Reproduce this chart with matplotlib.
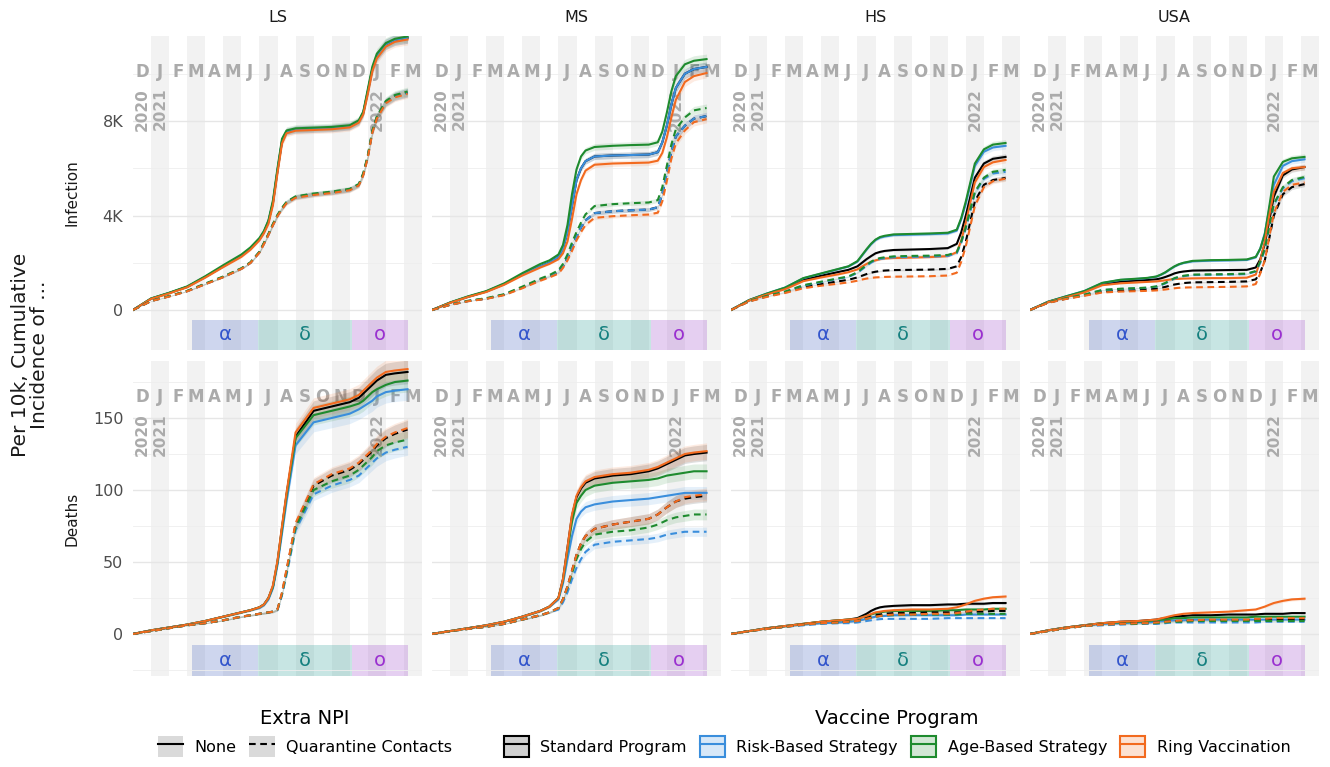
import matplotlib.pyplot as plt
from matplotlib.lines import Line2D
from matplotlib.patches import Patch
from matplotlib.legend_handler import HandlerTuple
import matplotlib.transforms as mtransforms

# time axis: months since 1 Dec 2020
t = [0, 1, 2, 3, 4, 5, 6, 6.5, 7, 7.25, 7.5, 7.75, 8, 8.25, 8.5, 9, 10, 11, 12,
     12.5, 12.75, 13, 13.25, 13.5, 14, 14.5, 15.2]

regions = ['LS', 'MS', 'HS', 'USA']
programs = ['Standard Program', 'Risk-Based Strategy', 'Age-Based Strategy', 'Ring Vaccination']
prog_colors = ['#000000', '#3A8EDC', '#1E8B2E', '#F26A1F']
npi_labels = ['None', 'Quarantine Contacts']

# cumulative infections per 10k (rows: standard, risk, age, ring)
inf_ls_none = [
    [0, 480, 720, 980, 1400, 1850, 2300, 2600, 3000, 3300, 3750, 4550, 5900, 7150, 7550, 7640, 7670, 7700, 7780, 7980, 8350, 9250, 10200, 10750, 11250, 11430, 11520],
    [0, 480, 720, 980, 1400, 1850, 2300, 2600, 3000, 3300, 3750, 4550, 5900, 7150, 7550, 7640, 7670, 7700, 7780, 7980, 8350, 9250, 10200, 10750, 11250, 11430, 11520],
    [0, 490, 730, 1000, 1430, 1900, 2350, 2650, 3050, 3350, 3800, 4650, 6000, 7250, 7600, 7690, 7720, 7750, 7820, 8030, 8400, 9350, 10300, 10850, 11300, 11480, 11580],
    [0, 470, 700, 960, 1370, 1820, 2250, 2550, 2950, 3250, 3650, 4450, 5800, 7050, 7480, 7590, 7620, 7650, 7730, 7930, 8280, 9150, 10100, 10650, 11150, 11350, 11450],
]
inf_ls_quar = [
    [0, 380, 580, 800, 1100, 1400, 1750, 2000, 2450, 2820, 3200, 3620, 4000, 4300, 4550, 4780, 4900, 4980, 5100, 5300, 5750, 6500, 7550, 8150, 8800, 9050, 9200],
    [0, 380, 580, 800, 1100, 1400, 1750, 2000, 2450, 2820, 3200, 3620, 4000, 4300, 4550, 4780, 4900, 4980, 5100, 5300, 5750, 6500, 7550, 8150, 8800, 9050, 9200],
    [0, 385, 590, 810, 1120, 1420, 1770, 2020, 2470, 2850, 3230, 3650, 4030, 4330, 4580, 4810, 4930, 5010, 5130, 5330, 5800, 6550, 7600, 8200, 8850, 9100, 9250],
    [0, 375, 570, 790, 1090, 1390, 1740, 1990, 2430, 2790, 3180, 3590, 3970, 4270, 4520, 4750, 4870, 4950, 5070, 5270, 5700, 6450, 7500, 8100, 8750, 9000, 9150],
]
inf_ms_none = [
    [0, 310, 560, 780, 1100, 1500, 1850, 2000, 2250, 2600, 3300, 4400, 5500, 6000, 6300, 6500, 6540, 6560, 6580, 6680, 7100, 7800, 8700, 9400, 10000, 10200, 10290],
    [0, 310, 560, 780, 1100, 1500, 1850, 2000, 2250, 2600, 3300, 4400, 5500, 6000, 6300, 6500, 6540, 6560, 6580, 6680, 7100, 7800, 8700, 9400, 10000, 10200, 10290],
    [0, 320, 580, 800, 1130, 1560, 1950, 2100, 2350, 2750, 3600, 4900, 5950, 6500, 6750, 6900, 6950, 6980, 7000, 7100, 7550, 8350, 9250, 9900, 10400, 10550, 10620],
    [0, 300, 550, 760, 1070, 1460, 1800, 1950, 2150, 2400, 2900, 3850, 4900, 5500, 5900, 6150, 6200, 6220, 6240, 6320, 6650, 7300, 8150, 8900, 9650, 9900, 10030],
]
inf_ms_quar = [
    [0, 220, 380, 480, 650, 950, 1280, 1430, 1600, 1850, 2200, 2650, 3100, 3500, 3800, 4100, 4180, 4220, 4250, 4350, 4900, 5800, 6700, 7350, 7800, 8100, 8210],
    [0, 220, 380, 480, 650, 950, 1280, 1430, 1600, 1850, 2200, 2650, 3100, 3500, 3800, 4100, 4180, 4220, 4250, 4350, 4900, 5800, 6700, 7350, 7800, 8100, 8210],
    [0, 225, 390, 500, 670, 990, 1330, 1480, 1680, 1950, 2350, 2850, 3300, 3700, 4050, 4400, 4480, 4520, 4550, 4650, 5200, 6100, 7000, 7650, 8150, 8450, 8550],
    [0, 215, 370, 470, 630, 920, 1240, 1380, 1540, 1780, 2100, 2500, 2950, 3300, 3600, 3900, 3970, 4010, 4040, 4120, 4600, 5450, 6400, 7050, 7600, 7950, 8080],
]
inf_hs_none = [
    [0, 410, 680, 920, 1280, 1450, 1620, 1700, 1850, 2000, 2150, 2280, 2400, 2460, 2500, 2540, 2560, 2580, 2620, 2800, 3300, 4000, 4800, 5600, 6200, 6400, 6480],
    [0, 420, 700, 950, 1340, 1540, 1740, 1840, 2050, 2300, 2550, 2780, 2960, 3060, 3110, 3170, 3190, 3210, 3240, 3360, 3850, 4500, 5300, 6100, 6700, 6880, 6950],
    [0, 420, 700, 950, 1350, 1550, 1750, 1850, 2070, 2320, 2570, 2800, 2980, 3090, 3140, 3200, 3220, 3240, 3270, 3400, 3900, 4600, 5400, 6200, 6800, 7000, 7070],
    [0, 400, 660, 880, 1220, 1380, 1520, 1600, 1720, 1840, 1950, 2040, 2100, 2150, 2180, 2200, 2220, 2240, 2280, 2450, 2950, 3700, 4550, 5400, 6050, 6250, 6350],
]
inf_hs_quar = [
    [0, 370, 580, 750, 980, 1100, 1220, 1280, 1380, 1450, 1520, 1580, 1620, 1650, 1670, 1690, 1700, 1710, 1740, 1850, 2250, 2900, 3750, 4600, 5300, 5500, 5590],
    [0, 375, 590, 770, 1030, 1180, 1330, 1400, 1570, 1720, 1870, 2000, 2110, 2160, 2190, 2230, 2250, 2260, 2290, 2400, 2850, 3450, 4200, 4950, 5550, 5780, 5850],
    [0, 380, 600, 780, 1050, 1200, 1350, 1420, 1600, 1750, 1900, 2040, 2150, 2200, 2230, 2270, 2290, 2300, 2330, 2450, 2900, 3500, 4250, 5000, 5600, 5850, 5930],
    [0, 360, 560, 720, 920, 1030, 1120, 1170, 1240, 1290, 1330, 1360, 1380, 1390, 1400, 1410, 1420, 1430, 1460, 1580, 2050, 2700, 3550, 4400, 5200, 5450, 5560],
]
inf_usa_none = [
    [0, 340, 560, 770, 1100, 1200, 1250, 1270, 1300, 1340, 1400, 1470, 1550, 1600, 1630, 1670, 1680, 1690, 1700, 1800, 2150, 2800, 3800, 4800, 5700, 5950, 6050],
    [0, 350, 580, 800, 1140, 1270, 1320, 1350, 1410, 1490, 1590, 1720, 1840, 1930, 1990, 2060, 2090, 2100, 2120, 2230, 2600, 3250, 4300, 5300, 6100, 6300, 6380],
    [0, 350, 580, 800, 1150, 1280, 1330, 1360, 1420, 1500, 1600, 1730, 1850, 1940, 2000, 2080, 2110, 2120, 2140, 2250, 2600, 3200, 4400, 5650, 6270, 6420, 6480],
    [0, 330, 540, 740, 1050, 1130, 1170, 1190, 1210, 1235, 1260, 1290, 1310, 1320, 1330, 1340, 1350, 1350, 1370, 1500, 2100, 2900, 4000, 5000, 5800, 6000, 6050],
]
inf_usa_quar = [
    [0, 310, 480, 620, 780, 820, 850, 870, 900, 940, 980, 1030, 1080, 1110, 1140, 1170, 1180, 1190, 1210, 1300, 1600, 2100, 3050, 4000, 4900, 5200, 5330],
    [0, 315, 495, 640, 840, 890, 920, 940, 990, 1050, 1130, 1230, 1330, 1390, 1430, 1480, 1490, 1500, 1520, 1630, 2000, 2550, 3500, 4450, 5150, 5450, 5580],
    [0, 320, 500, 650, 850, 900, 930, 950, 1000, 1070, 1150, 1250, 1350, 1410, 1450, 1500, 1510, 1520, 1540, 1650, 2050, 2600, 3550, 4500, 5200, 5500, 5630],
    [0, 300, 470, 600, 740, 780, 800, 810, 830, 850, 870, 895, 920, 940, 950, 960, 970, 980, 1000, 1100, 1550, 2100, 3100, 4100, 5000, 5300, 5400],
]

# cumulative deaths per 10k (rows: standard, risk, age, ring)
dth_ls_none = [
    [0, 2.5, 4.5, 6.5, 9, 12, 15, 16.5, 18.5, 20.5, 25, 33, 50, 74, 97, 137, 155, 158, 161, 164, 167, 170, 173, 176, 180, 181, 182],
    [0, 2.5, 4.5, 6.5, 9, 12, 15, 16.5, 18, 20, 24, 32, 48, 70, 92, 131, 147, 150, 153, 156, 158, 160, 162, 165, 168, 169, 170],
    [0, 2.5, 4.5, 6.5, 9, 12, 15, 16.5, 18.5, 20.5, 25, 33, 50, 73, 96, 136, 152, 155, 158, 160, 162, 165, 168, 170, 173, 175, 176],
    [0, 2.5, 4.5, 6.5, 9, 12, 15, 16.5, 18.5, 20.5, 25, 34, 51, 75, 98, 140, 157, 160, 163, 166, 169, 172, 175, 178, 182, 183, 184],
]
dth_ls_quar = [
    [0, 2, 4, 6, 7.5, 9.5, 12, 13, 14, 14.5, 15, 15.5, 17, 28, 44, 76, 103, 110, 114, 118, 121, 124, 127, 131, 136, 139, 142],
    [0, 2, 4, 6, 7.5, 9.5, 12, 13, 14, 14.5, 15, 15.5, 16.5, 27, 41, 72, 97, 103, 107, 110, 113, 116, 119, 122, 126, 128, 130],
    [0, 2, 4, 6, 7.5, 9.5, 12, 13, 14, 14.5, 15, 15.5, 17, 28, 43, 74, 100, 106, 110, 114, 117, 120, 123, 127, 131, 133, 135],
    [0, 2, 4, 6, 7.5, 9.5, 12, 13, 14, 14.5, 15, 15.5, 17, 29, 45, 77, 104, 111, 115, 119, 122, 125, 128, 132, 137, 140, 143],
]
dth_ms_none = [
    [0, 2, 4, 6, 8.5, 12, 16, 19, 25, 38, 60, 82, 95, 101, 105, 108, 110, 111, 113, 115, 116.5, 118, 119.5, 121, 124, 125, 126],
    [0, 2, 4, 6, 8.5, 12, 16, 19, 24, 35, 52, 68, 80, 85, 88, 90, 92, 93, 94, 95, 95.5, 96, 96.5, 97, 98, 98, 98],
    [0, 2, 4, 6, 8.5, 12, 16, 19, 25, 37, 58, 78, 91, 96, 100, 103, 105, 106, 107, 108, 109, 110, 110.5, 111, 112, 113, 113],
    [0, 2, 4, 6, 8.5, 12, 16, 19, 25, 38, 60, 83, 96, 102, 106, 109, 111, 112, 114, 116, 117.5, 119, 120.5, 122, 125, 126, 127],
]
dth_ms_quar = [
    [0, 2, 3.5, 5, 7, 10, 13, 15, 18, 24, 33, 44, 55, 63, 68, 73, 76, 78, 80, 83, 85.5, 88, 90, 92, 94, 95, 96],
    [0, 2, 3.5, 5, 7, 10, 13, 15, 17, 22, 29, 38, 46, 52, 57, 62, 64, 65, 66, 67, 68, 69, 69.5, 70, 71, 71, 71],
    [0, 2, 3.5, 5, 7, 10, 13, 15, 18, 24, 32, 42, 52, 59, 64, 69, 71, 72, 74, 76, 77.5, 79, 80, 81, 82, 83, 83],
    [0, 2, 3.5, 5, 7, 10, 13, 15, 18, 24, 33, 44, 55, 63, 68, 73, 76, 78, 80, 83, 85.5, 88, 90, 92, 95, 96, 97],
]
dth_hs_none = [
    [0, 2, 4, 5.5, 7, 8.5, 9.5, 10, 11, 12.5, 14, 16, 17.5, 18.5, 19, 19.5, 20, 20, 20.5, 20.5, 20.8, 21, 21, 21, 21, 21.5, 21.5],
    [0, 2, 4, 5.5, 6.5, 7.5, 8, 8.5, 9, 9.8, 10.5, 11.3, 12, 12.3, 12.5, 13, 13, 13, 13, 13, 13.2, 13.5, 13.5, 13.5, 13.5, 13.5, 13.5],
    [0, 2, 4, 5.5, 7, 8.5, 9.5, 10, 10.5, 11.5, 12.5, 13.5, 14.5, 15, 15.5, 16, 16, 16, 16.5, 16.5, 16.8, 17, 17, 17, 17, 17.5, 17.5],
    [0, 2, 4, 5.5, 7, 8.5, 9.5, 10, 10.5, 11.5, 12.5, 13.8, 15, 15.5, 16, 16.5, 17, 17, 17.5, 18.5, 19.5, 20.5, 21.8, 23, 24.5, 25.5, 26],
]
dth_hs_quar = [
    [0, 2, 3.5, 5, 6.5, 7.5, 8, 8.5, 9, 10, 11, 12, 13, 13.5, 14, 14.5, 14.5, 15, 15, 15, 15.2, 15.5, 15.5, 15.5, 15.5, 16, 16],
    [0, 2, 3.5, 5, 6, 7, 7.5, 7.5, 8, 8.5, 9, 9.5, 10, 10.3, 10.5, 10.5, 10.5, 10.5, 11, 11, 11, 11, 11, 11, 11, 11, 11],
    [0, 2, 3.5, 5, 6.5, 7.5, 8, 8.5, 9, 9.8, 10.5, 11.3, 12, 12.5, 13, 13, 13.5, 13.5, 13.5, 13.5, 13.8, 14, 14, 14, 14, 14, 14],
    [0, 2, 3.5, 5, 6.5, 7.5, 8, 8.5, 9, 9.8, 10.5, 11.3, 12, 12.5, 13, 13.5, 13.5, 14, 14, 14.5, 15, 15.5, 16, 16.5, 17, 17.5, 17.5],
]
dth_usa_none = [
    [0, 2.5, 4.5, 6, 7.5, 8.5, 9, 9.5, 10, 10.5, 11, 11.5, 12, 12.3, 12.5, 13, 13, 13.5, 13.5, 13.5, 13.8, 14, 14, 14, 14, 14.5, 14.5],
    [0, 2.5, 4.5, 6, 7, 7.5, 8, 8, 8.5, 8.8, 9, 9.3, 9.5, 9.5, 9.5, 10, 10, 10, 10, 10, 10, 10, 10, 10, 10, 10, 10],
    [0, 2.5, 4.5, 6, 7.5, 8, 8.5, 9, 9.5, 9.8, 10, 10.5, 11, 11, 11, 11.5, 11.5, 11.5, 11.5, 12, 12, 12, 12, 12, 12, 12, 12],
    [0, 2.5, 4.5, 6, 7.5, 8.5, 9, 9.5, 10, 10.8, 11.5, 12.3, 13, 13.5, 14, 14.5, 15, 15.5, 16.5, 17, 18, 19, 20.3, 21.5, 23, 24, 24.5],
]
dth_usa_quar = [
    [0, 2, 4, 5.5, 6.5, 7, 7.5, 7.5, 8, 8.2, 8.5, 8.8, 9, 9, 9, 9.5, 9.5, 9.5, 9.5, 10, 10, 10, 10, 10, 10, 10, 10],
    [0, 2, 4, 5.5, 6, 6.5, 7, 7, 7, 7.2, 7.5, 7.8, 8, 8, 8, 8, 8, 8, 8, 8, 8.2, 8.5, 8.5, 8.5, 8.5, 8.5, 8.5],
    [0, 2, 4, 5.5, 6.5, 7, 7, 7.5, 7.5, 7.8, 8, 8.3, 8.5, 8.5, 8.5, 9, 9, 9, 9, 9, 9, 9, 9, 9, 9, 9, 9],
    [0, 2, 4, 5.5, 6.5, 7, 7.5, 7.5, 8, 8.2, 8.5, 8.8, 9, 9.3, 9.5, 9.5, 10, 10, 10, 10.5, 10.5, 10.5, 10.8, 11, 11, 11, 11],
]

month_letters = list('DJFMAMJJASONDJFM')
year_labels = ['2020', '2021', '2022']
year_months = [0, 1, 13]

variant_names = ['α', 'δ', 'ο']
variant_start = [3.27, 6.9, 12.15]
variant_end = [6.9, 12.1, 15.2]
variant_fill = ['#3F5FBF', '#239B93', '#9B43CB']
variant_text = ['#3355CC', '#15807F', '#9A30D0']

rows = [
    ('Infection', [(inf_ls_none, inf_ls_quar), (inf_ms_none, inf_ms_quar),
                   (inf_hs_none, inf_hs_quar), (inf_usa_none, inf_usa_quar)]),
    ('Deaths', [(dth_ls_none, dth_ls_quar), (dth_ms_none, dth_ms_quar),
                (dth_hs_none, dth_hs_quar), (dth_usa_none, dth_usa_quar)]),
]
row_ylim = [(-1693, 11598), (-29.2, 189.6)]
row_major = [[0, 4000, 8000], [0, 50, 100, 150]]
row_major_lab = [['0', '4K', '8K'], ['0', '50', '100', '150']]
row_minor = [[2000, 6000, 10000], [-25, 25, 75, 125, 175]]
row_band = [0.02, 0.045]   # half-width of the uncertainty ribbon, relative

W, H = 1330, 767
fig = plt.figure(figsize=(W / 100, H / 100), dpi=100)
col_left = [133, 432, 731, 1030]
panel_w = 289
row_top = [36, 361]
panel_h = [314, 315]

grey_txt = '#ABABAB'

for r, (row_name, panels) in enumerate(rows):
    for c, (none_vals, quar_vals) in enumerate(panels):
        ax = fig.add_axes([col_left[c] / W, 1 - (row_top[r] + panel_h[r]) / H,
                           panel_w / W, panel_h[r] / H])
        ax.set_xlim(0, 16)
        ax.set_ylim(*row_ylim[r])
        for s in ax.spines.values():
            s.set_visible(False)
        ax.set_xticks([])
        ax.set_yticks(row_major[r])
        ax.set_yticks(row_minor[r], minor=True)
        ax.grid(axis='y', which='major', color='#E6E6E6', lw=1.0, zorder=0.5)
        ax.grid(axis='y', which='minor', color='#EEEEEE', lw=0.6, zorder=0.5)
        ax.set_axisbelow(True)
        ax.tick_params(axis='y', which='both', length=0, pad=7, labelsize=11.5,
                       labelcolor='#4D4D4D')
        if c == 0:
            ax.set_yticklabels(row_major_lab[r])
        else:
            ax.set_yticklabels([])

        # alternating month stripes
        for m in range(1, 16, 2):
            ax.axvspan(m, m + 1, color='#F2F2F2', lw=0, zorder=0.2)

        trans = mtransforms.blended_transform_factory(ax.transData, ax.transAxes)
        for m, letter in enumerate(month_letters):
            ax.text(m + 0.5, 0.885, letter, transform=trans, ha='center', va='center',
                    fontsize=12, fontweight='bold', color=grey_txt, zorder=1)
        for ylab, ym in zip(year_labels, year_months):
            ax.text(ym + 0.5, 0.835, ylab, transform=trans, ha='center', va='top',
                    rotation=90, fontsize=11, fontweight='bold', color=grey_txt, zorder=1)

        # variant periods
        for vn, vs, ve, vf, vt in zip(variant_names, variant_start, variant_end,
                                      variant_fill, variant_text):
            ax.axvspan(vs, ve, ymin=0, ymax=0.097, color=vf, alpha=0.25, lw=0, zorder=0.3)
            ax.text((vs + ve) / 2, 0.048, vn, transform=trans, ha='center', va='center',
                    fontsize=14, color=vt, zorder=1)

        # ribbons then lines
        for vals in (none_vals, quar_vals):
            for k in range(4):
                y = vals[k]
                lo = [v * (1 - row_band[r]) for v in y]
                hi = [v * (1 + row_band[r]) for v in y]
                ax.fill_between(t, lo, hi, color=prog_colors[k], alpha=0.13, lw=0, zorder=2)
        for vals, ls in ((none_vals, '-'), (quar_vals, '--')):
            for k in range(4):
                line, = ax.plot(t, vals[k], color=prog_colors[k], lw=1.5, ls=ls, zorder=3,
                                solid_joinstyle='round', dash_joinstyle='round')
                if ls == '--':
                    line.set_dashes((3.2, 2.2))

        if r == 0:
            fig.text((col_left[c] + panel_w / 2) / W, 1 - 17 / H, regions[c],
                     ha='center', va='center', fontsize=11.5, color='#1A1A1A')

    fig.text(72 / W, 1 - (row_top[r] + panel_h[r] / 2) / H, row_name, rotation=90,
             ha='center', va='center', fontsize=11, color='#1A1A1A')

fig.text(30 / W, 1 - 355 / H, 'Per 10k, Cumulative\nIncidence of ...', rotation=90,
         ha='center', va='center', fontsize=14.5, color='#1A1A1A', linespacing=1.0)

# legends
key_grey = '#DADADA'
npi_handles = [
    (Patch(facecolor=key_grey, edgecolor='none'), Line2D([], [], color='black', lw=1.5)),
    (Patch(facecolor=key_grey, edgecolor='none'),
     Line2D([], [], color='black', lw=1.5, ls=(0, (3.2, 2.2)))),
]
fig.legend(npi_handles, npi_labels, loc='center', bbox_to_anchor=(305 / W, 1 - 733 / H),
           ncol=2, frameon=False, fontsize=11.5, title='Extra NPI', title_fontsize=14,
           handler_map={tuple: HandlerTuple(ndivide=1, pad=0)},
           handlelength=1.6, handleheight=1.7, handletextpad=0.7, columnspacing=0.8)

prog_handles = []
for k in range(4):
    fc = '#D0D0D0' if k == 0 else prog_colors[k]
    prog_handles.append((Patch(facecolor=fc, alpha=0.2 if k else 1, edgecolor='none'),
                         Patch(facecolor='none', edgecolor=prog_colors[k], lw=1.5),
                         Line2D([], [], color=prog_colors[k], lw=1.5)))
fig.legend(prog_handles, programs, loc='center', bbox_to_anchor=(897 / W, 1 - 733 / H),
           ncol=4, frameon=False, fontsize=11.5, title='Vaccine Program', title_fontsize=14,
           handler_map={tuple: HandlerTuple(ndivide=1, pad=0)},
           handlelength=1.6, handleheight=1.7, handletextpad=0.7, columnspacing=0.8)

fig.savefig('out.png', dpi=100)
